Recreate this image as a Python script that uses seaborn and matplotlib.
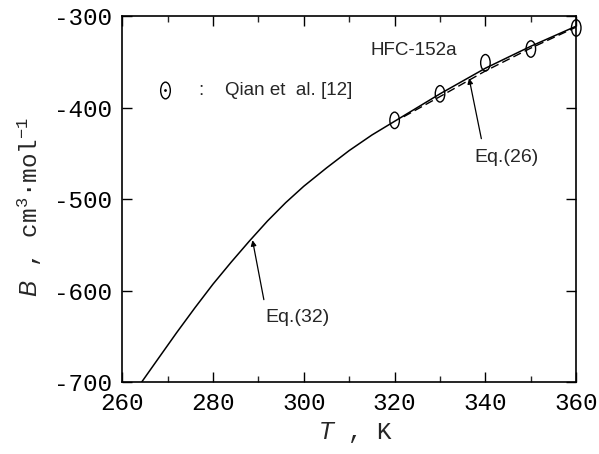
import numpy as np
import pandas as pd
import matplotlib
matplotlib.use("Agg")
import matplotlib.pyplot as plt
from matplotlib.path import Path
from matplotlib.transforms import Affine2D
import seaborn as sns

# Eq.(32) curve
T_eq32 = [264.3, 268, 272, 276, 280, 284, 288, 292, 296, 300, 305, 310, 315, 320, 330, 340, 350, 360]
B_eq32 = [-700, -674, -646, -619, -593, -569, -546, -524, -504, -486, -466, -447, -430, -415, -385, -357, -333, -311]

# Eq.(26) curve
T_eq26 = [322, 330, 340, 350, 360]
B_eq26 = [-410, -388, -360, -335, -312]

# Qian et al. [12] data
T_qian = [320, 330, 340, 350, 360]
B_qian = [-414, -385, -351, -336, -313]

x_ticks = [260, 280, 300, 320, 340, 360]
y_ticks = [-700, -600, -500, -400, -300]

sns.set_theme(style="ticks")
plt.rcParams["font.family"] = ["Liberation Mono", "DejaVu Sans Mono"]
plt.rcParams["mathtext.fontset"] = "custom"
plt.rcParams["mathtext.rm"] = "Liberation Mono"
plt.rcParams["mathtext.it"] = "Liberation Sans:italic"

fig = plt.figure(figsize=(5.99, 4.54), dpi=100)
ax = fig.add_axes([0.204, 0.1586, 0.758, 0.806])

df32 = pd.DataFrame({"T": T_eq32, "B": B_eq32})
df26 = pd.DataFrame({"T": T_eq26, "B": B_eq26})

sns.lineplot(data=df32, x="T", y="B", ax=ax, color="black", lw=1.1, sort=True)
sns.lineplot(data=df26, x="T", y="B", ax=ax, color="black", lw=1.0,
             linestyle=(0, (6, 3)))

ell = Path.unit_circle().transformed(Affine2D().scale(0.58, 1.0))
ax.scatter(T_qian, B_qian, marker=ell, s=140, facecolors="none",
           edgecolors="black", linewidths=1.0, zorder=5, clip_on=False)

ax.set_xlim(260, 360)
ax.set_ylim(-700, -300)
ax.set_xticks(x_ticks)
ax.set_yticks(y_ticks)
ax.set_xticks(np.arange(270, 360, 20), minor=True)
ax.tick_params(axis="both", which="major", direction="in", length=7, width=1,
               top=True, right=True, labelsize=17.5, pad=7, colors="black")
ax.tick_params(axis="x", which="minor", direction="in", length=4, width=1,
               top=True, bottom=True)
ax.set_xticklabels([str(v) for v in x_ticks])
ax.set_yticklabels([str(v) for v in y_ticks])
for s in ax.spines.values():
    s.set_linewidth(1.2)
    s.set_color("black")

ax.set_xlabel(r"$\mathit{T}$ , K", fontsize=17.5, va="center")
ax.xaxis.set_label_coords(0.513, -0.139)
ax.set_ylabel("$\\mathit{B}$ , cm$^3$\u00b7mol$^{-1}$", fontsize=17.5, va="center")
ax.yaxis.set_label_coords(-0.203, 0.478)

sans = ["Liberation Sans", "DejaVu Sans"]
ax.text(324.2, -338, "HFC-152a", fontsize=13.5, family=sans, ha="center", va="center")
ax.plot([269.5], [-381], marker=ell, ms=12, mfc="none", mec="black", mew=1.0)
ax.plot([269.5], [-381], marker=".", ms=2, color="black")
ax.text(277.3, -381, ":", fontsize=13.5, family=sans, ha="center", va="center")
ax.text(282.7, -381, "Qian et  al. [12]", fontsize=13.5, family=sans, ha="left", va="center")

ax.text(344.7, -455, "Eq.(26)", fontsize=14, family=sans, ha="center", va="center")
ax.annotate("", xy=(336.4, -368), xytext=(339.1, -434),
            arrowprops=dict(arrowstyle="-|>", color="black", lw=0.9,
                            shrinkA=0, shrinkB=0, mutation_scale=8))
ax.text(298.5, -630, "Eq.(32)", fontsize=14, family=sans, ha="center", va="center")
ax.annotate("", xy=(288.7, -545), xytext=(291.2, -610),
            arrowprops=dict(arrowstyle="-|>", color="black", lw=0.9,
                            shrinkA=0, shrinkB=0, mutation_scale=8))

fig.savefig("out.png", dpi=100)
